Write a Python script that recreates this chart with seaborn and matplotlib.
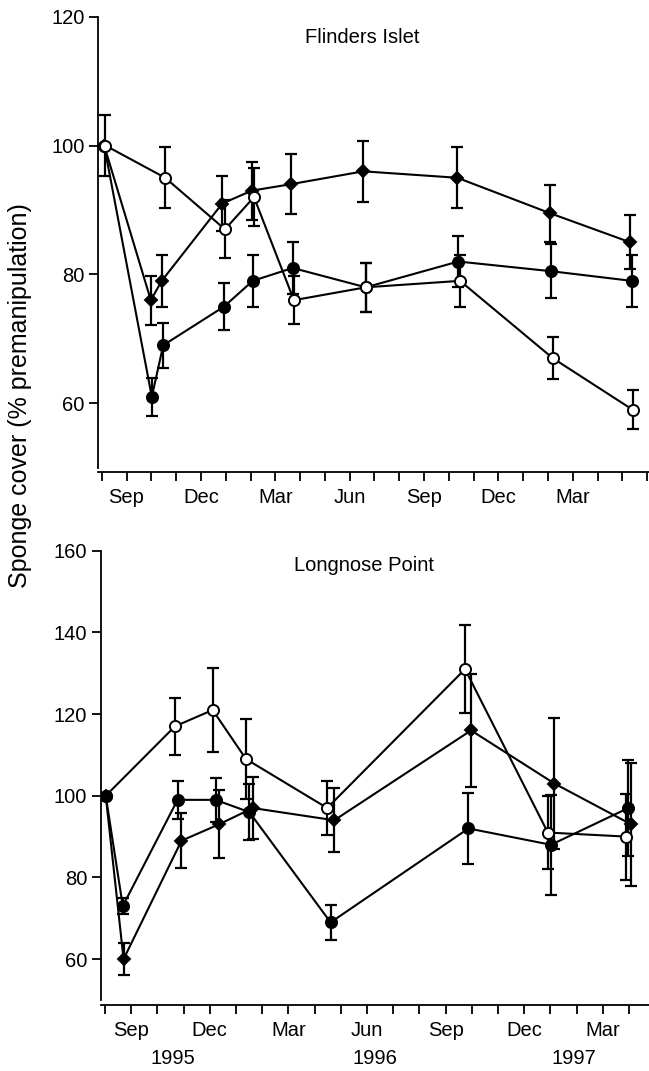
import matplotlib
matplotlib.use("Agg")
import matplotlib.pyplot as plt
import seaborn as sns
import numpy as np

# ---------------- data (x = months since 1 Aug 1995) ----------------
# Flinders Islet
fl_open_x = [0.15, 2.56, 4.97, 6.14, 7.75, 10.65, 14.45, 18.19, 21.41]
fl_open_y = [100, 95, 87, 92, 76, 78, 79, 67, 59]
fl_open_e = [4.8, 4.7, 4.5, 4.5, 3.7, 3.8, 4.0, 3.3, 3.0]

fl_fill_x = [0.10, 2.02, 2.48, 4.93, 6.09, 7.70, 10.65, 14.38, 18.12, 21.37]
fl_fill_y = [100, 61, 69, 75, 79, 81, 78, 82, 80.5, 79]
fl_fill_e = [0, 3.0, 3.5, 3.7, 4.0, 4.0, 3.8, 4.0, 4.2, 4.0]

fl_dia_x = [0.10, 1.98, 2.42, 4.86, 6.05, 7.62, 10.55, 14.34, 18.08, 21.30]
fl_dia_y = [100, 76, 79, 91, 93, 94, 96, 95, 89.5, 85]
fl_dia_e = [0, 3.8, 4.0, 4.3, 4.5, 4.7, 4.7, 4.7, 4.4, 4.2]

# Longnose Point
ln_open_x = [0.03, 2.67, 4.11, 5.38, 8.48, 13.74, 16.90, 19.90]
ln_open_y = [100, 117, 121, 109, 97, 131, 91, 90]
ln_open_e = [0, 7.0, 10.4, 9.8, 6.6, 10.7, 9.0, 10.5]

ln_fill_x = [0.03, 0.68, 2.77, 4.22, 5.51, 8.61, 13.87, 17.02, 19.97]
ln_fill_y = [100, 73, 99, 99, 96, 69, 92, 88, 97]
ln_fill_e = [0, 2.0, 4.6, 5.3, 6.9, 4.3, 8.7, 12.3, 11.8]

ln_dia_x = [0.03, 0.71, 2.92, 4.35, 5.64, 8.75, 13.97, 17.15, 20.08]
ln_dia_y = [100, 60, 89, 93, 97, 94, 116, 103, 93]
ln_dia_e = [0, 4.0, 6.8, 8.3, 7.7, 7.8, 13.8, 16.0, 15.0]

# axis text
month_ticks = [1, 4, 7, 10, 13, 16, 19]
month_labels = ["Sep", "Dec", "Mar", "Jun", "Sep", "Dec", "Mar"]
year_pos = [2.6, 10.3, 17.9]
year_labels = ["1995", "1996", "1997"]
top_yticks = [60, 80, 100, 120]
bot_yticks = [60, 80, 100, 120, 140, 160]
panel_titles = ["Flinders Islet", "Longnose Point"]
ylabel = "Sponge cover (% premanipulation)"

# ---------------- style ----------------
sns.set_theme(style="ticks")
plt.rcParams["font.family"] = ["Liberation Sans", "DejaVu Sans"]
plt.rcParams["text.color"] = "black"
plt.rcParams["axes.labelcolor"] = "black"
FS = 14.5
LW = 1.5

fig = plt.figure(figsize=(6.49, 10.71), dpi=100)
W, H = 649, 1071
ax1 = fig.add_axes([98 / W, (H - 467.7) / H, (W - 98) / W, 451 / H])
ax2 = fig.add_axes([100.5 / W, (H - 1000) / H, (W - 100.5) / W, 449.3 / H])


def draw_series(ax, x, y, e, marker, ms, face):
    ax.errorbar(x, y, yerr=e, fmt="none", ecolor="black", elinewidth=1.6,
                capsize=4.5, capthick=1.6, zorder=2)
    sns.lineplot(x=x, y=y, ax=ax, color="black", linewidth=LW, marker=marker,
                 markersize=ms, markerfacecolor=face, markeredgecolor="black",
                 markeredgewidth=1.4, estimator=None, sort=False, zorder=3)


def style_axis(ax, xmax_month, xlim, ylim, yticks):
    ax.set_xlim(*xlim)
    ax.set_ylim(*ylim)
    ax.set_yticks(yticks)
    ax.set_yticklabels([str(v) for v in yticks])
    months = list(range(0, xmax_month + 1))
    ax.set_xticks(months)
    labs = []
    for m in months:
        labs.append(month_labels[month_ticks.index(m)] if m in month_ticks else "")
    ax.set_xticklabels(labs)
    for s in ["top", "right"]:
        ax.spines[s].set_visible(False)
    ax.spines["left"].set_linewidth(1.3)
    ax.spines["bottom"].set_linewidth(1.3)
    ax.spines["left"].set_color("black")
    ax.spines["bottom"].set_color("black")
    ax.spines["bottom"].set_position(("outward", 3.3))
    ax.tick_params(axis="both", direction="out", length=6.5, width=1.3,
                   color="black", labelcolor="black", labelsize=FS)
    ax.tick_params(axis="y", pad=3)
    ax.tick_params(axis="x", pad=5)
    ax.set_xlabel("")
    ax.set_ylabel("")
    ax.set_facecolor("white")


# top panel
draw_series(ax1, fl_dia_x, fl_dia_y, fl_dia_e, "D", 6, "black")
draw_series(ax1, fl_fill_x, fl_fill_y, fl_fill_e, "o", 8, "black")
draw_series(ax1, fl_open_x, fl_open_y, fl_open_e, "o", 8, "white")
style_axis(ax1, 22, (-0.15, 22.07), (50, 120), top_yticks)
ax1.text(0.48, 0.953, panel_titles[0], transform=ax1.transAxes,
         ha="center", va="center", fontsize=FS, color="black")

# bottom panel
draw_series(ax2, ln_open_x, ln_open_y, ln_open_e, "o", 8, "white")
draw_series(ax2, ln_dia_x, ln_dia_y, ln_dia_e, "D", 6, "black")
draw_series(ax2, ln_fill_x, ln_fill_y, ln_fill_e, "o", 8, "black")
style_axis(ax2, 20, (-0.17, 20.76), (50, 160), bot_yticks)
ax2.text(0.481, 0.968, panel_titles[1], transform=ax2.transAxes,
         ha="center", va="center", fontsize=FS, color="black")
for xp, lab in zip(year_pos, year_labels):
    ax2.text(xp, -0.13, lab, transform=ax2.get_xaxis_transform(),
             ha="center", va="center", fontsize=FS, color="black")

fig.text(20 / W, 1 - 396 / H, ylabel, rotation=90, ha="center", va="center",
         fontsize=18, color="black")

fig.savefig("out.png", dpi=100, facecolor="white")
